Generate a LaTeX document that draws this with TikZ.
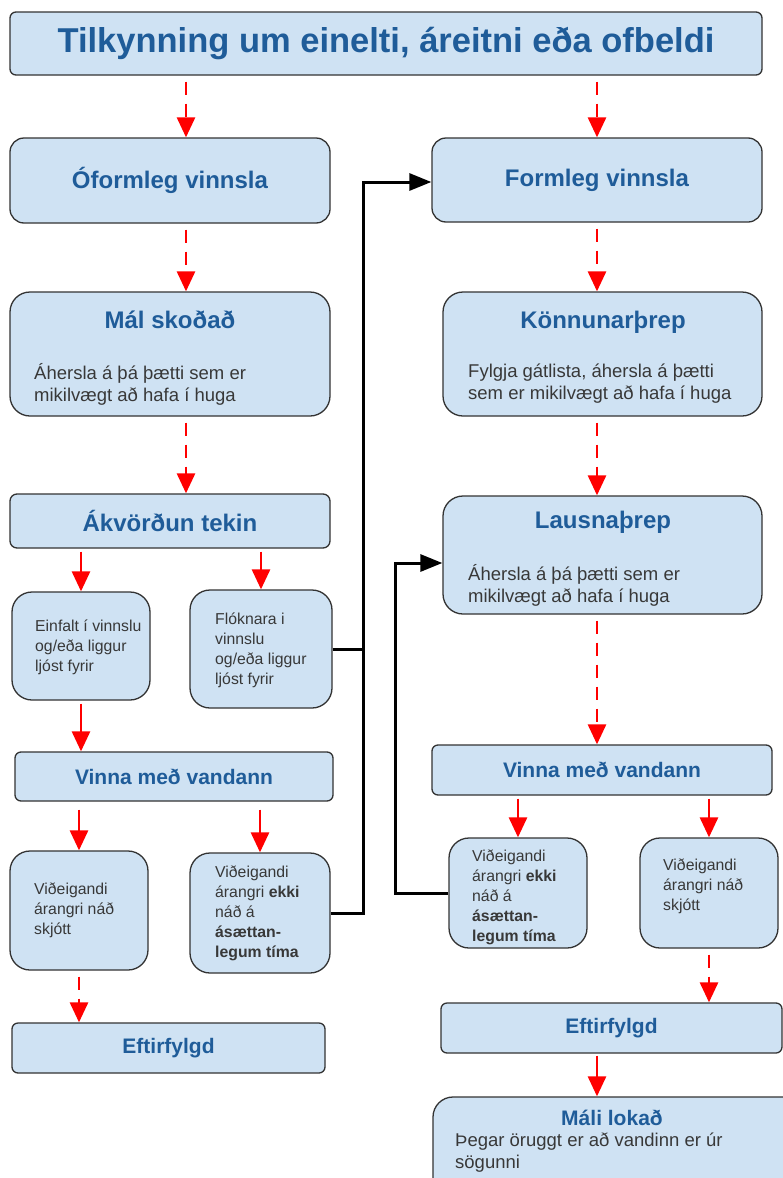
\documentclass[tikz,border=0pt]{standalone}
\usepackage{fontspec}
\setmainfont{Liberation Sans}
\usetikzlibrary{arrows.meta}

\definecolor{boxfill}{HTML}{CFE2F3}
\definecolor{boxline}{HTML}{333333}
\definecolor{headblue}{HTML}{1F5C99}
\definecolor{bodygray}{HTML}{383838}
\definecolor{arrowred}{HTML}{FF0000}

\tikzset{
	box/.style={draw=boxline, fill=boxfill, line width=1.3pt, inner sep=0pt},
	heading/.style={text=headblue, font=\bfseries\fontsize{24}{28}\selectfont},
	subheading/.style={text=headblue, font=\bfseries\fontsize{21}{25}\selectfont},
	bodytext/.style={text=bodygray, align=left, anchor=west, inner sep=0pt, font=\fontsize{18.5}{22}\selectfont},
	smalltext/.style={text=bodygray, align=left, anchor=west, inner sep=0pt, font=\fontsize{15.8}{20}\selectfont},
	flow/.style={draw=arrowred, line width=2.8pt, -{Triangle[width=18pt,length=20pt]}},
	flowdash/.style={flow, dash pattern=on 13pt off 9pt, shorten <=6pt},
	link/.style={draw=black, line width=3pt},
	linkarrow/.style={link, -{Triangle[width=17pt,length=22pt]}}
}

\begin{document}
\begin{tikzpicture}[x=1pt, y=-1pt]
	\useasboundingbox (0,0) rectangle (783,1178);

	% Title
	\node[box, rounded corners=6pt, minimum width=752pt, minimum height=63pt] (report) at (386,43.5)
		{\textcolor{headblue}{\bfseries\fontsize{34.5}{40}\selectfont Tilkynning um einelti, áreitni eða ofbeldi}};
	\coordinate (lcol) at (186,0);
	\coordinate (rcol) at (597,0);

	% Left column: informal handling
	\begin{scope}
		\node[box, rounded corners=14pt, minimum width=320pt, minimum height=85pt, heading] (informal) at (170,180.5) {Óformleg vinnsla};

		\node[box, rounded corners=20pt, minimum width=320pt, minimum height=124pt] (inspect) at (170,354) {};
		\node[heading] (inspecthead) at (170,320) {Mál skoðað};
		\node[bodytext] (inspecttext) at (34,384) {Áhersla á þá þætti sem er\\mikilvægt að hafa í huga};

		\node[box, rounded corners=7pt, minimum width=320pt, minimum height=54pt, heading] (decision) at (170,521) {Ákvörðun tekin};

		\node[box, rounded corners=20pt, minimum width=138pt, minimum height=108pt] (simple) at (81,646) {};
		\node[smalltext] (simpletext) at (35,647) {Einfalt í vinnslu\\og/eða liggur\\ljóst fyrir};
		\node[box, rounded corners=20pt, minimum width=142pt, minimum height=118pt] (complex) at (261,649) {};
		\node[smalltext] (complextext) at (215,650) {Flóknara i\\vinnslu\\og/eða liggur\\ljóst fyrir};

		\node[box, rounded corners=6pt, minimum width=318pt, minimum height=49pt, subheading] (workL) at (174,776.5) {Vinna með vandann};

		\node[box, rounded corners=20pt, minimum width=138pt, minimum height=119pt] (reachedL) at (79,910.5) {};
		\node[smalltext] (reachedLtext) at (34,910) {Viðeigandi\\árangri náð\\skjótt};
		\node[box, rounded corners=20pt, minimum width=140pt, minimum height=120pt] (notreachedL) at (260,913) {};
		\node[smalltext] (notreachedLtext) at (215,913) {Viðeigandi\\árangri \textbf{ekki}\\náð á\\\textbf{ásættan-}\\\textbf{legum tíma}};

		\node[box, rounded corners=6pt, minimum width=313pt, minimum height=50pt, subheading] (followL) at (168.5,1048) {Eftirfylgd};
	\end{scope}

	% Right column: formal handling
	\begin{scope}
		\node[box, rounded corners=14pt, minimum width=330pt, minimum height=84pt, heading] (formal) at (597,180) {Formleg vinnsla};

		\node[box, rounded corners=20pt, minimum width=319pt, minimum height=124pt] (survey) at (602.5,354) {};
		\node[heading] (surveyhead) at (603,322) {Könnunarþrep};
		\node[bodytext] (surveytext) at (468,384) {Fylgja gátlista, áhersla á þætti\\sem er mikilvægt að hafa í huga};

		\node[box, rounded corners=20pt, minimum width=319pt, minimum height=118pt] (solution) at (602.5,555) {};
		\node[heading] (solutionhead) at (603,522) {Lausnaþrep};
		\node[bodytext] (solutiontext) at (468,585) {Áhersla á þá þætti sem er\\mikilvægt að hafa í huga};

		\node[box, rounded corners=6pt, minimum width=340pt, minimum height=50pt, subheading] (workR) at (602,770) {Vinna með vandann};

		\node[box, rounded corners=20pt, minimum width=138pt, minimum height=110pt] (notreachedR) at (518,893) {};
		\node[smalltext] (notreachedRtext) at (472,897) {Viðeigandi\\árangri \textbf{ekki}\\náð á\\\textbf{ásættan-}\\\textbf{legum tíma}};
		\node[box, rounded corners=20pt, minimum width=138pt, minimum height=110pt] (reachedR) at (709,893) {};
		\node[smalltext] (reachedRtext) at (663,886) {Viðeigandi\\árangri náð\\skjótt};

		\node[box, rounded corners=6pt, minimum width=341pt, minimum height=50pt, subheading] (followR) at (611.5,1028) {Eftirfylgd};

		% runs off the page at the bottom and right
		\node[box, rounded corners=20pt, minimum width=370pt, minimum height=110pt] (closed) at (618,1152) {};
		\node[subheading] (closedhead) at (612,1118) {Máli lokað};
		\node[bodytext] (closedtext) at (455,1152.5) {Þegar öruggt er að vandinn er úr\\sögunni};
	\end{scope}

	% Red arrows
	\draw[flowdash] (report.south -| lcol) -- (informal.north -| lcol);
	\draw[flowdash] (report.south -| rcol) -- (formal.north -| rcol);
	\draw[flowdash] (informal.south -| lcol) -- (inspect.north -| lcol);
	\draw[flowdash] (inspect.south -| lcol) -- (decision.north -| lcol);
	\draw[flowdash] (formal.south -| rcol) -- (survey.north -| rcol);
	\draw[flowdash] (survey.south -| rcol) -- (solution.north -| rcol);
	\draw[flowdash] (solution.south -| rcol) -- (workR.north -| rcol);
	\draw[flowdash] (reachedL.south) -- (followL.north -| reachedL.south);
	\draw[flowdash] (reachedR.south) -- (followR.north -| reachedR.south);

	\draw[flow, shorten <=3pt] (simple.north |- decision.south) -- (simple.north);
	\draw[flow, shorten <=3pt] (complex.north |- decision.south) -- (complex.north);
	\draw[flow, shorten <=3pt] (simple.south) -- (simple.south |- workL.north);
	\draw[flow, shorten <=8pt] (reachedL.north |- workL.south) -- (reachedL.north);
	\draw[flow, shorten <=8pt] (notreachedL.north |- workL.south) -- (notreachedL.north);
	\draw[flow, shorten <=3pt] (notreachedR.north |- workR.south) -- (notreachedR.north);
	\draw[flow, shorten <=3pt] (reachedR.north |- workR.south) -- (reachedR.north);
	\draw[flow, shorten <=2pt] (followR.south -| rcol) -- (closed.north -| rcol);

	% Black links back to formal handling
	\coordinate (leftbus) at (363,182);
	\coordinate (rightbus) at (395,563);
	\draw[linkarrow] (complex.east) -| (leftbus) -- (formal.west |- leftbus);
	\draw[link] (notreachedL.east) -| (leftbus);
	\draw[linkarrow] (notreachedR.west) -| (rightbus) -- (solution.west |- rightbus);
\end{tikzpicture}
\end{document}
